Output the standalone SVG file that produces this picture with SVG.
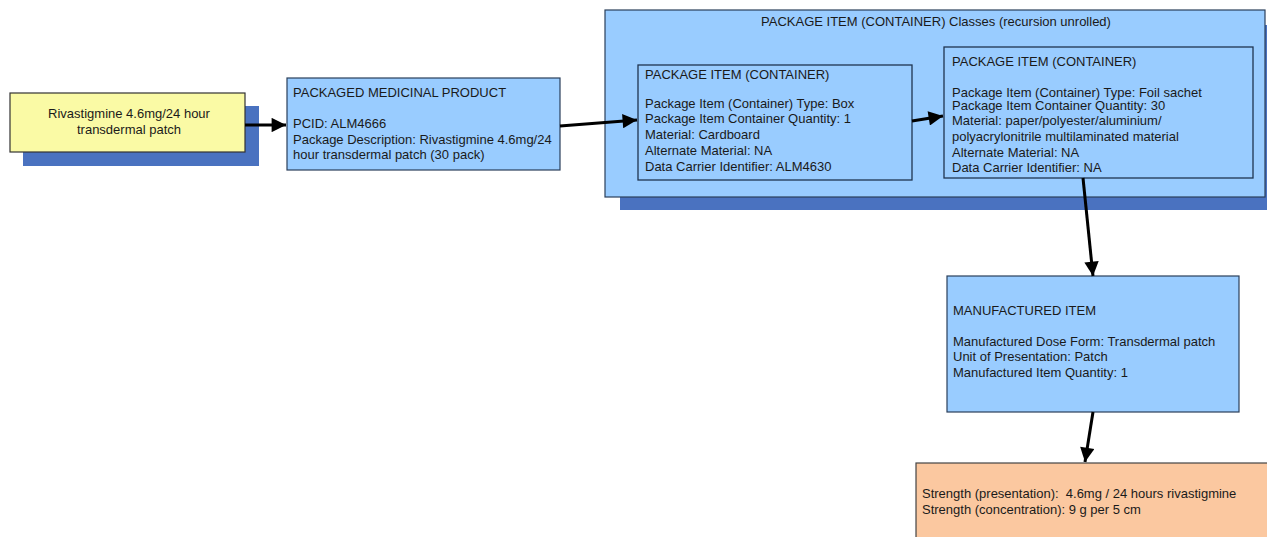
<svg xmlns="http://www.w3.org/2000/svg" width="1267" height="537" viewBox="0 0 1267 537">
<style>
text{font-family:"Liberation Sans",Arial,sans-serif;font-size:13px;fill:#1a1a1a}
.shadow{fill:#4a72c0}
.blue{fill:#99ccff;stroke:#2a3f5a;stroke-width:1.2}
.inner{fill:none;stroke:#1f3550;stroke-width:1.3}
.yellow{fill:#fafaa5;stroke:#333;stroke-width:1.2}
.orange{fill:#fbc8a0;stroke:#444;stroke-width:1.2}
.conn{stroke:#000;stroke-width:3;fill:none;marker-end:url(#ah)}
</style>
<defs>
<marker id="ah" viewBox="0 0 10 10" refX="10" refY="5" markerWidth="6.5" markerHeight="4.8" markerUnits="strokeWidth" orient="auto">
<path d="M0,0 L10,5 L0,10 z" fill="#000"/>
</marker>
</defs>
<rect width="1267" height="537" fill="#fff"/>

<g id="container">
<rect class="shadow" x="620" y="25" width="647" height="185"/>
<rect class="blue" x="605" y="10" width="660" height="187"/>
<text x="936" y="26" text-anchor="middle">PACKAGE ITEM (CONTAINER) Classes (recursion unrolled)</text>
</g>

<g id="source">
<rect class="shadow" x="23" y="106" width="236" height="60"/>
<rect class="yellow" x="10" y="93" width="235" height="59"/>
<text x="129" y="118" text-anchor="middle">Rivastigmine 4.6mg/24 hour</text>
<text x="129" y="134" text-anchor="middle">transdermal patch</text>
</g>

<g id="pmp">
<rect class="blue" x="287" y="78" width="273" height="92"/>
<text x="293" y="97">PACKAGED MEDICINAL PRODUCT</text>
<text x="293" y="128">PCID: ALM4666</text>
<text x="293" y="144">Package Description: Rivastigmine 4.6mg/24</text>
<text x="293" y="159">hour transdermal patch (30 pack)</text>
</g>

<g id="item1">
<rect class="inner" x="638" y="65" width="274" height="115"/>
<text x="645" y="79">PACKAGE ITEM (CONTAINER)</text>
<text x="645" y="108">Package Item (Container) Type: Box</text>
<text x="645" y="123">Package Item Container Quantity: 1</text>
<text x="645" y="139">Material: Cardboard</text>
<text x="645" y="155">Alternate Material: NA</text>
<text x="645" y="171">Data Carrier Identifier: ALM4630</text>
</g>

<g id="item2">
<rect class="inner" x="944" y="47" width="309" height="131"/>
<text x="952" y="66">PACKAGE ITEM (CONTAINER)</text>
<text x="952" y="97">Package Item (Container) Type: Foil sachet</text>
<text x="952" y="110">Package Item Container Quantity: 30</text>
<text x="952" y="125">Material: paper/polyester/aluminium/</text>
<text x="952" y="141">polyacrylonitrile multilaminated material</text>
<text x="952" y="157">Alternate Material: NA</text>
<text x="952" y="172">Data Carrier Identifier: NA</text>
</g>

<g id="manufactured">
<rect class="blue" x="947" y="276" width="292" height="136"/>
<text x="953" y="315">MANUFACTURED ITEM</text>
<text x="953" y="346">Manufactured Dose Form: Transdermal patch</text>
<text x="953" y="361">Unit of Presentation: Patch</text>
<text x="953" y="377">Manufactured Item Quantity: 1</text>
</g>

<g id="strength">
<rect class="orange" x="916" y="463" width="355" height="80"/>
<text x="922" y="498" xml:space="preserve">Strength (presentation):  4.6mg / 24 hours rivastigmine</text>
<text x="922" y="514">Strength (concentration): 9 g per 5 cm</text>
</g>

<g id="connectors">
<line class="conn" x1="245" y1="125" x2="286" y2="125"/>
<line class="conn" x1="560" y1="126" x2="637" y2="120"/>
<line class="conn" x1="912" y1="121" x2="943" y2="116"/>
<line class="conn" x1="1083" y1="178" x2="1093" y2="276"/>
<line class="conn" x1="1093" y1="412" x2="1085" y2="462"/>
</g>
</svg>
